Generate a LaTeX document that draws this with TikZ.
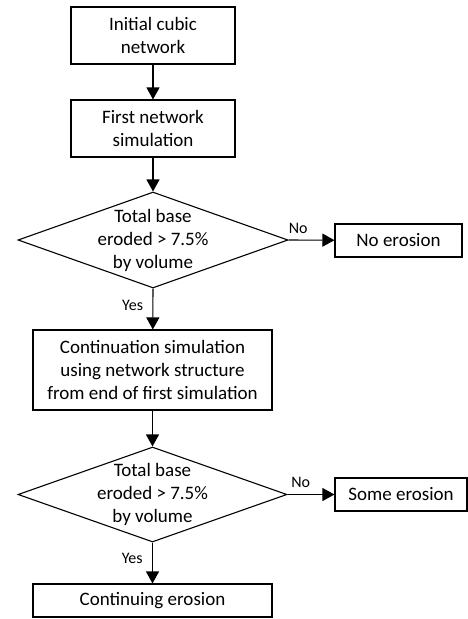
\documentclass[tikz,border=0pt]{standalone}
\usepackage{fontspec}
\setmainfont{Carlito}
\usetikzlibrary{arrows.meta}
\usetikzlibrary{shapes.geometric, positioning}

\tikzset{
  procbox/.style={draw, line width=1.1pt, align=center, inner sep=0pt, font=\fontsize{19}{23}\selectfont},
  decision/.style={diamond, draw, line width=1.1pt, inner sep=0pt},
  decisiontext/.style={align=center, font=\fontsize{19}{23}\selectfont},
  branchlabel/.style={font=\fontsize{16}{19}\selectfont}
}

\begin{document}
\begin{tikzpicture}[x=1pt, y=-1pt, >={Triangle[length=12pt,width=13pt]}, line width=1.1pt]
      \useasboundingbox (0,0) rectangle (468,619);

      \node[procbox, minimum width=164pt, minimum height=57pt] (init) at (153, 35.5) {Initial cubic\\network};
      \node[procbox, minimum width=164pt, minimum height=57pt] (firstsim) at (153, 128.5) {First network\\simulation};
      \node[decision, minimum width=270pt, minimum height=96pt,
            label={[decisiontext]center:{Total base\\eroded > 7.5\%\\by volume}}] (check1) at (153, 240) {};
      \node[procbox, minimum width=127pt, minimum height=33pt] (noerosion) at (398.5, 240.5) {No erosion};
      \node[procbox, minimum width=239pt, minimum height=80pt] (contsim) at (152.5, 370) {Continuation simulation\\using network structure\\from end of first simulation};
      \node[decision, minimum width=269pt, minimum height=95pt,
            label={[decisiontext]center:{Total base\\eroded > 7.5\%\\by volume}}] (check2) at (152.5, 494.5) {};
      \node[procbox, minimum width=132pt, minimum height=33pt] (someerosion) at (401, 494.5) {Some erosion};
      \node[procbox, minimum width=239pt, minimum height=33pt] (conterosion) at (152.5, 600.5) {Continuing erosion};

      % connectors
      \draw[->] (init) -- (firstsim);
      \draw[->] (firstsim) -- (check1);
      \draw[->] (check1.east) -- node[branchlabel, above=3pt, pos=0.21] {No} (noerosion);
      \draw[->] (check1.south) -- node[branchlabel, left=6pt, pos=0.42] {Yes} (contsim);
      \draw[->] (contsim) -- (check2);
      \draw[->] (check2.east) -- node[branchlabel, above=3pt, pos=0.28] {No} (someerosion);
      \draw[->] (check2.south) -- node[branchlabel, left=6pt, pos=0.4] {Yes} (conterosion);
    \end{tikzpicture}
\end{document}
